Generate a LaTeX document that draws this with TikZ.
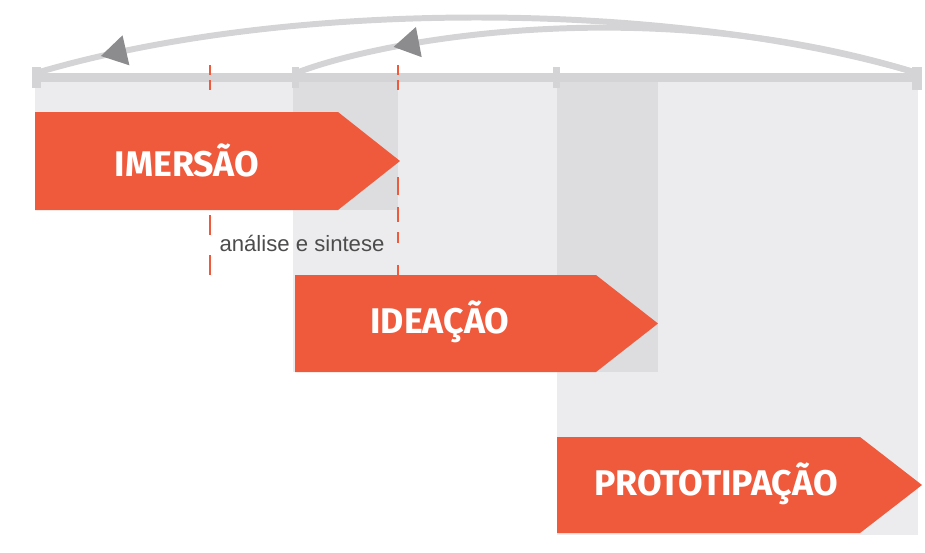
\documentclass[tikz,border=0pt]{standalone}
\usepackage{fontspec}
\setsansfont{Liberation Sans}
\newfontfamily\fasefont{Fira Sans}
\usetikzlibrary{decorations.markings,arrows.meta}
\definecolor{laranja}{HTML}{F05A3C}
\definecolor{painel}{HTML}{ECECEE}
\definecolor{painelesc}{HTML}{DDDDDF}
\definecolor{barra}{HTML}{D4D4D6}
\definecolor{ponta}{HTML}{8C8C8E}
\def\fase[#1](#2,#3)(#4,#5){\fill[#1] (#2,#3) -- ({#4-62},#3) -- (#4,{(#3+#5)/2}) -- ({#4-62},#5) -- (#2,#5) -- cycle;}
\tikzset{
  rotulo/.style={text=white, font=\fasefont\bfseries\fontsize{20.3}{20}\selectfont},
  volta/.style={draw=barra, line width=3.4pt, postaction={decorate},
    decoration={markings, mark=at position #1 with {\arrow[color=ponta]{Triangle[length=0.52cm,width=0.58cm]}}}},
  corte/.style={draw=laranja, line width=1.2pt},
}

\begin{document}
\begin{tikzpicture}[x=0.02cm, y=-0.02cm]
			%%%%% START %%%%%
			\useasboundingbox (0, 0) rectangle (925, 552);
			
			% faixas de fundo
			\fill[painel] (35, 82) rectangle (293, 210);
			\fill[painelesc] (293, 82) rectangle (398, 210);
			\fill[painel] (398, 82) rectangle (557, 210);
			\fill[painel] (293, 210) rectangle (557, 372);
			\fill[painelesc] (557, 82) rectangle (658, 372);
			\fill[painel] (658, 82) rectangle (918, 535);
			\fill[painel] (557, 372) rectangle (658, 535);
			
			% linha do tempo
			\fill[barra] (35, 73) rectangle (918, 82);
			\fill[barra] (32, 67) rectangle (41, 88);
			\fill[barra] (292, 67) rectangle (299, 88);
			\fill[barra] (553, 67) rectangle (560, 88);
			\fill[barra] (912, 67) rectangle (922, 90);
			
			\coordinate (t0) at (36, 73);
			\coordinate (t1) at (296, 73);
			\coordinate (t3) at (917, 73);
			
			% voltas
			\draw[volta=0.925] (t3) .. controls (668, -1) and (285, -1) .. (t0);
			\draw[volta=0.84] (t3) .. controls (650, -10) and (380, 40) .. (t1);
			
			% cortes
			\draw[corte] (210, 65) -- (210, 75);
			\draw[corte] (210, 80) -- (210, 90);
			\draw[corte] (398, 65) -- (398, 75);
			\draw[corte] (398, 80) -- (398, 90);
			\draw[corte] (210, 215) -- (210, 235);
			\draw[corte] (210, 255) -- (210, 275);
			\draw[corte] (398, 177) -- (398, 195);
			\draw[corte] (398, 207) -- (398, 222);
			\draw[corte] (398, 232) -- (398, 243);
			\draw[corte] (398, 265) -- (398, 275);
			
			% fases
			\fase[laranja](35, 112)(400, 210)
			\fase[laranja](295, 275)(658, 372)
			\fase[laranja](557, 437)(922, 533)
			
			\node[rotulo] (imersao) at (187, 160) {IMERSÃO};
			\node[rotulo] (ideacao) at (440, 322) {IDEAÇÃO};
			\node[rotulo] (prototipacao) at (716, 484) {PROTOTIPAÇÃO};
			
			\node[text=black!70, font=\sffamily\fontsize{12.6}{13}\selectfont] (analise) at (302, 243) {análise e sintese};
			
			%%%%% END %%%%%
		\end{tikzpicture}
\end{document}
